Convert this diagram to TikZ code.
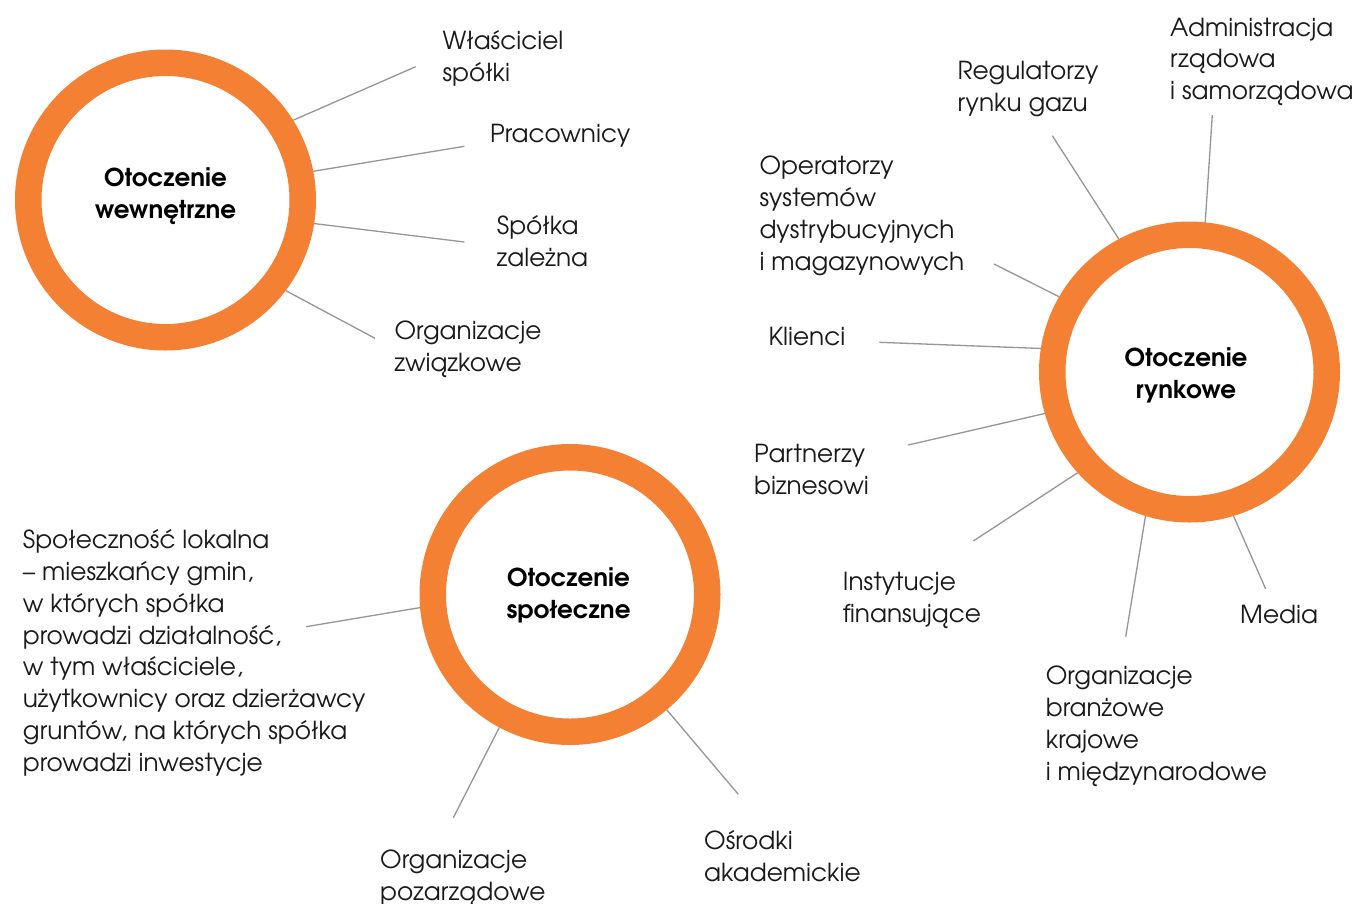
\documentclass[tikz,border=0pt]{standalone}
\usepackage{fontspec}
\setmainfont{texgyreadventor}[Extension=.otf, UprightFont=*-regular, BoldFont=*-bold, ItalicFont=*-italic, BoldItalicFont=*-bolditalic]
\definecolor{ringorange}{RGB}{244,128,52}
\definecolor{linegray}{RGB}{150,150,150}
\definecolor{txtcol}{RGB}{26,26,26}
\tikzset{
  ring/.style={circle, draw=ringorange, line width=26.5pt, inner sep=0pt, minimum size=274.5pt, fill=white},
  lbl/.style={font=\fontsize{24.8}{31.8}\selectfont, align=left, anchor=base west, inner sep=0pt, text=txtcol},
  ctr/.style={font=\bfseries\fontsize{24.6}{31.8}\selectfont, align=center, anchor=base, inner sep=0pt, text=black},
  conn/.style={draw=linegray, line width=1.3pt}
}
\begin{document}
\begin{tikzpicture}[x=1pt,y=-1pt]
\useasboundingbox (0,0) rectangle (1361,903);
\fill[white] (0,0) rectangle (1361,903);

% rings
\node[ring] (c1) at (165.5,200) {};
\node[ring] (c2) at (1189.5,372) {};
\node[ring] (c3) at (570,594.5) {};

% centre texts (anchor = baseline of last line)
\node[ctr] (t1) at (165.5,218.4) {Otoczenie\\wewnętrzne};
\node[ctr] (t2) at (1186,398.3) {Otoczenie\\rynkowe};
\node[ctr] (t3) at (568.5,618.3) {Otoczenie\\społeczne};

% free ends
\coordinate (e1) at (415.7,66.7);
\coordinate (e2) at (464.3,146.3);
\coordinate (e3) at (464.3,242);
\coordinate (e4) at (375,338.3);
\coordinate (e5) at (1212.3,115);
\coordinate (e6) at (1052.3,135.7);
\coordinate (e7) at (994,264);
\coordinate (e8) at (879.3,342.3);
\coordinate (e9) at (908.3,445);
\coordinate (e10) at (973.3,541);
\coordinate (e11) at (1125.7,636.7);
\coordinate (e12) at (1265.7,589);
\coordinate (e13) at (306,626.7);
\coordinate (e14) at (453.3,817.7);
\coordinate (e15) at (738.3,794.3);

% connectors
\draw[conn] (c1.32) -- (e1);
\draw[conn] (c1.11.7) -- (e2);
\draw[conn] (c1.-9.8) -- (e3);
\draw[conn] (c1.-37.3) -- (e4);
\draw[conn] (c2.84.2) -- (e5);
\draw[conn] (c2.118.4) -- (e6);
\draw[conn] (c2.150.7) -- (e7);
\draw[conn] (c2.171.3) -- (e8);
\draw[conn] (c2.196.1) -- (e9);
\draw[conn] (c2.222.5) -- (e10);
\draw[conn] (c2.253.8) -- (e11);
\draw[conn] (c2.287.6) -- (e12);
\draw[conn] (c3.185) -- (e13);
\draw[conn] (c3.242.7) -- (e14);
\draw[conn] (c3.310.6) -- (e15);

% labels (anchor = baseline of last line)
\node[lbl] (l1) at (442.3,81.7) {Właściciel\\spółki};
\node[lbl] (l2) at (490,142) {Pracownicy};
\node[lbl] (l3) at (496.7,266.7) {Spółka\\zależna};
\node[lbl] (l4) at (394.3,371.7) {Organizacje\\związkowe};
\node[lbl] (l5) at (1170,99.6) {Administracja\\rządowa\\i samorządowa};
\node[lbl] (l6) at (957.3,111) {Regulatorzy\\rynku gazu};
\node[lbl] (l7) at (759.3,270) {Operatorzy\\systemów\\dystrybucyjnych\\i magazynowych};
\node[lbl] (l8) at (768.3,345) {Klienci};
\node[lbl] (l9) at (754,494.4) {Partnerzy\\biznesowi};
\node[lbl] (l10) at (842.7,622.7) {Instytucje\\finansujące};
\node[lbl] (l11) at (1240,623.3) {Media};
\node[lbl] (l12) at (1045.7,780) {Organizacje\\branżowe\\krajowe\\i międzynarodowe};
\node[lbl] (l13) at (22.7,771.3) {Społeczność lokalna\\– mieszkańcy gmin,\\w których spółka\\prowadzi działalność,\\w tym właściciele,\\użytkownicy oraz dzierżawcy\\gruntów, na których spółka\\prowadzi inwestycje};
\node[lbl] (l14) at (380,900) {Organizacje\\pozarządowe};
\node[lbl] (l15) at (704,881.7) {Ośrodki\\akademickie};
\end{tikzpicture}
\end{document}
